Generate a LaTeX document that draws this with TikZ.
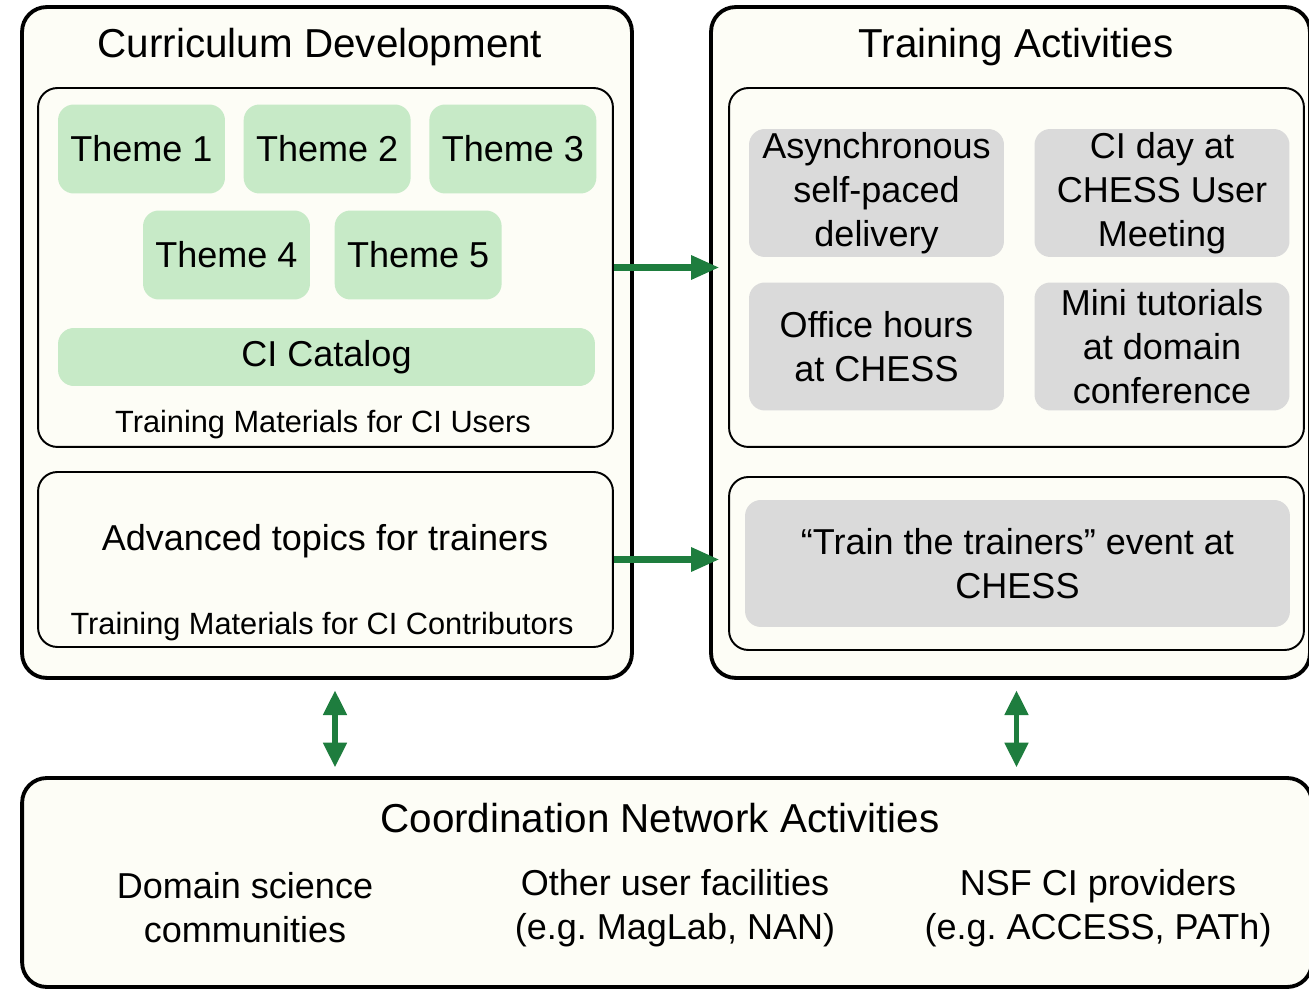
\documentclass[tikz,border=0pt]{standalone}
\usepackage{fontspec}
\setmainfont{Liberation Sans}
\usepackage{tikz}
\usetikzlibrary{
  positioning,
  arrows.meta,
  calc
}
\definecolor{cream}{RGB}{253,253,246}
\definecolor{themegreen}{RGB}{199,234,199}
\definecolor{actgrey}{RGB}{218,218,218}
\definecolor{arrowgreen}{RGB}{30,125,62}
\tikzset{
  >=Latex,
  outerbox/.style={rectangle,draw,line width=2.2pt,rounded corners=14pt,fill=cream,inner sep=0pt},
  innerbox/.style={rectangle,draw,line width=1.1pt,rounded corners=11pt,fill=cream,inner sep=0pt},
  theme/.style={rectangle,rounded corners=9pt,fill=themegreen,minimum width=3.34cm,minimum height=1.78cm,inner sep=0pt,font=\fontsize{20.5}{25}\selectfont},
  activity/.style={rectangle,rounded corners=9pt,fill=actgrey,minimum width=5.1cm,minimum height=2.56cm,inner sep=0pt,align=center,font=\fontsize{20.5}{25}\selectfont},
  boxtitle/.style={inner sep=0pt,font=\fontsize{23}{28}\selectfont},
  bodytext/.style={inner sep=0pt,align=center,font=\fontsize{20.5}{25}\selectfont},
  caption/.style={inner sep=0pt,font=\fontsize{17.5}{21}\selectfont},
  flowarrow/.style={-{Triangle[length=16pt,width=13pt]},line width=3.6pt,arrowgreen,shorten >=5pt},
  linkarrow/.style={{Triangle[length=14pt,width=13pt]}-{Triangle[length=14pt,width=13pt]},line width=3pt,arrowgreen,shorten <=6pt,shorten >=5pt}
}

\begin{document}
\frenchspacing
\begin{tikzpicture}[x=0.02cm,y=-0.02cm]
    \useasboundingbox[fill=white] (0,0) rectangle (1309,989);
    \clip (0,0) rectangle (1309,989);

    % curriculum side
    \node[outerbox,minimum width=12.2cm,minimum height=13.42cm] (curr) at (327,342.5) {};
    \node[boxtitle] (currtitle) at (320,47) {Curriculum Development};
    \node[innerbox,minimum width=11.5cm,minimum height=7.18cm] (users) at (325.5,267.5) {};
    \node[theme] (t1) at (141.5,149) {Theme 1};
    \node[theme,right=0.36cm of t1] (t2) {Theme 2};
    \node[theme,right=0.36cm of t2] (t3) {Theme 3};
    \node[theme] (t4) at (226.5,255) {Theme 4};
    \node[theme,right=0.48cm of t4] (t5) {Theme 5};
    \node[theme,minimum width=10.74cm,minimum height=1.16cm] (catalog) at (326.5,357) {CI Catalog};
    \node[caption] (userscap) at (323,425) {Training Materials for CI Users};
    \node[innerbox,minimum width=11.5cm,minimum height=3.5cm] (contrib) at (325.5,559.5) {};
    \node[bodytext] (advanced) at (325,541) {Advanced topics for trainers};
    \node[caption] (contribcap) at (322,627) {Training Materials for CI Contributors};

    % training side
    \node[outerbox,minimum width=11.98cm,minimum height=13.42cm] (train) at (1010.5,342.5) {};
    \node[boxtitle] (traintitle) at (1016,47) {Training Activities};
    \node[innerbox,minimum width=11.5cm,minimum height=7.18cm] (acts) at (1016.5,267.5) {};
    \node[activity] (async) at (876.5,193) {Asynchronous\\self-paced\\delivery};
    \node[activity] (ciday) at (1162,193) {CI day at\\CHESS User\\Meeting};
    \node[activity] (office) at (876.5,346.5) {Office hours\\at CHESS};
    \node[activity] (mini) at (1162,346.5) {Mini tutorials\\at domain\\conference};
    \node[innerbox,minimum width=11.5cm,minimum height=3.46cm] (tttbox) at (1016.5,563.5) {};
    \node[activity,minimum width=10.9cm,minimum height=2.54cm] (ttt) at (1017.5,563.5) {“Train the trainers” event at\\CHESS};

    % coordination network
    \node[outerbox,minimum width=25.8cm,minimum height=4.18cm] (coord) at (667,882.5) {};
    \node[boxtitle] (coordtitle) at (660,818) {Coordination Network Activities};
    \node[bodytext] (domain) at (245,908) {Domain science\\communities};
    \node[bodytext] (facil) at (675,908) {Other user facilities\\(e.g. MagLab, NAN)};
    \node[bodytext] (nsf) at (1098,908) {NSF CI providers\\(e.g. ACCESS, PATh)};

    \coordinate (currlink) at ($(curr.south)+(8,0)$);
    \draw[flowarrow] (users.east) -- (users.east -| acts.west);
    \draw[flowarrow] (contrib.east) -- (contrib.east -| tttbox.west);
    \draw[linkarrow] (currlink) -- (currlink |- coord.north);
    \draw[linkarrow] (acts.south |- train.south) -- (acts.south |- coord.north);
\end{tikzpicture}
\end{document}
